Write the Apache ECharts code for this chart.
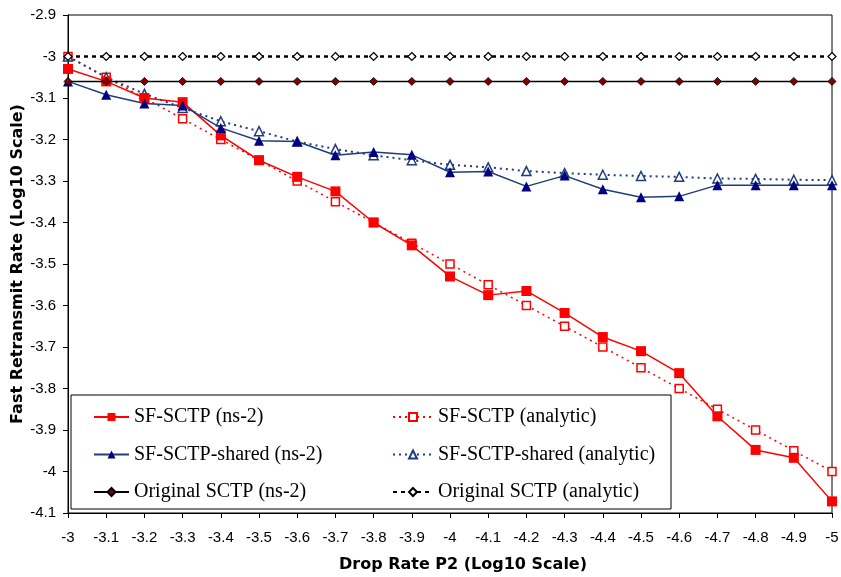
<!DOCTYPE html>
<html>
<head>
<meta charset="utf-8">
<script src="https://cdn.jsdelivr.net/npm/echarts@6/dist/echarts.min.js"></script>
<style>html,body{margin:0;padding:0;background:#fff}#c{width:841px;height:577px}</style>
</head>
<body>
<div id="c"></div>
<script>
var categories = ['-3','-3.1','-3.2','-3.3','-3.4','-3.5','-3.6','-3.7','-3.8','-3.9','-4','-4.1','-4.2','-4.3','-4.4','-4.5','-4.6','-4.7','-4.8','-4.9','-5'];
var sfNs2 = [-3.03,-3.06,-3.10,-3.11,-3.19,-3.25,-3.29,-3.325,-3.40,-3.455,-3.53,-3.575,-3.565,-3.618,-3.676,-3.71,-3.763,-3.867,-3.948,-3.967,-4.072];
var sfAnalytic = [-3.0,-3.05,-3.10,-3.15,-3.20,-3.25,-3.30,-3.35,-3.40,-3.45,-3.50,-3.55,-3.60,-3.65,-3.70,-3.75,-3.80,-3.85,-3.90,-3.95,-4.00];
var sharedNs2 = [-3.06,-3.092,-3.113,-3.118,-3.172,-3.203,-3.205,-3.238,-3.23,-3.237,-3.279,-3.277,-3.313,-3.287,-3.32,-3.339,-3.337,-3.31,-3.31,-3.31,-3.31];
var sharedAnalytic = [-3.0,-3.05,-3.09,-3.124,-3.156,-3.18,-3.205,-3.223,-3.238,-3.25,-3.261,-3.267,-3.276,-3.281,-3.285,-3.288,-3.29,-3.294,-3.295,-3.297,-3.298];
var origNs2 = [-3.06,-3.06,-3.06,-3.06,-3.06,-3.06,-3.06,-3.06,-3.06,-3.06,-3.06,-3.06,-3.06,-3.06,-3.06,-3.06,-3.06,-3.06,-3.06,-3.06,-3.06];
var origAnalytic = [-3.0,-3.0,-3.0,-3.0,-3.0,-3.0,-3.0,-3.0,-3.0,-3.0,-3.0,-3.0,-3.0,-3.0,-3.0,-3.0,-3.0,-3.0,-3.0,-3.0,-3.0];
var names = ['SF-SCTP (ns-2)','SF-SCTP (analytic)','SF-SCTP-shared (ns-2)','SF-SCTP-shared (analytic)','Original SCTP (ns-2)','Original SCTP (analytic)'];

var chart = echarts.init(document.getElementById('c'), null, {renderer:'canvas'});
var legendText = {fontFamily:'Liberation Serif', fontSize:20, color:'#000', lineHeight:20};
chart.setOption({
  animation:false,
  backgroundColor:'#fff',
  grid:{left:68,right:9,top:15,bottom:64,show:true,borderColor:'#000',borderWidth:1,backgroundColor:'transparent',containLabel:false,outerBoundsMode:'none'},
  xAxis:{
    type:'category', data:categories, boundaryGap:false,
    axisLine:{lineStyle:{color:'#000',width:1}},
    axisTick:{show:true,inside:false,length:5,lineStyle:{color:'#000'}},
    axisLabel:{color:'#000',fontFamily:'Liberation Sans',fontSize:15,margin:17,interval:0},
    name:'Drop Rate P2 (Log10 Scale)', nameLocation:'middle', nameGap:44, nameMoveOverlap:false,
    nameTextStyle:{fontFamily:'DejaVu Sans',fontWeight:'bold',fontSize:16,color:'#000',padding:[0,0,0,26]},
    splitLine:{show:false}
  },
  yAxis:{
    type:'value', min:-4.1, max:-2.9, interval:0.1,
    axisLine:{show:true,lineStyle:{color:'#000',width:1}},
    axisTick:{show:true,inside:false,length:5,lineStyle:{color:'#000'}},
    axisLabel:{color:'#000',fontFamily:'Liberation Sans',fontSize:15,margin:12,
      formatter:function(v){return String(Math.round(v*10)/10);}},
    name:'Fast Retransmit Rate (Log10 Scale)', nameLocation:'middle', nameGap:42, nameMoveOverlap:false,
    nameTextStyle:{fontFamily:'DejaVu Sans',fontWeight:'bold',fontSize:16,color:'#000'},
    splitLine:{show:false}
  },
  graphic:[{type:'rect',shape:{x:71,y:395,width:600,height:114},style:{fill:'#fff',stroke:'#000',lineWidth:1},z:5}],
  legend:[
    {data:[names[0],names[2],names[4]],orient:'vertical',left:88,top:402,itemWidth:35,itemHeight:10,itemGap:17.5,textStyle:legendText,z:10},
    {data:[names[1],names[3],names[5]],orient:'vertical',left:387,top:402,itemWidth:40,itemHeight:10,itemGap:17.5,textStyle:legendText,z:10}
  ],
  series:[
    {name:names[0],type:'line',data:sfNs2,symbol:'rect',symbolSize:10,
      lineStyle:{color:'#FF0000',width:1.5},itemStyle:{color:'#FF0000'},z:3},
    {name:names[1],type:'line',data:sfAnalytic,symbol:'rect',symbolSize:8,
      lineStyle:{color:'#FF0000',width:1.5,type:[2,4]},itemStyle:{color:'#fff',borderColor:'#FF0000',borderWidth:1.5},z:2},
    {name:names[2],type:'line',data:sharedNs2,symbol:'triangle',symbolSize:10,
      lineStyle:{color:'#1F3D7A',width:1.5},itemStyle:{color:'#000080'},z:3},
    {name:names[3],type:'line',data:sharedAnalytic,symbol:'triangle',symbolSize:9,
      lineStyle:{color:'#1F3D7A',width:2,type:[2,4]},itemStyle:{color:'#fff',borderColor:'#1F3D7A',borderWidth:1.5},z:2},
    {name:names[4],type:'line',data:origNs2,symbol:'diamond',symbolSize:8,
      lineStyle:{color:'#000',width:1.5},itemStyle:{color:'#800000',borderColor:'#000',borderWidth:0.8},z:4},
    {name:names[5],type:'line',data:origAnalytic,symbol:'diamond',symbolSize:8,
      lineStyle:{color:'#000',width:2.5,type:[4,4]},itemStyle:{color:'#fff',borderColor:'#000',borderWidth:1.2},z:4}
  ]
});
</script>
</body>
</html>
